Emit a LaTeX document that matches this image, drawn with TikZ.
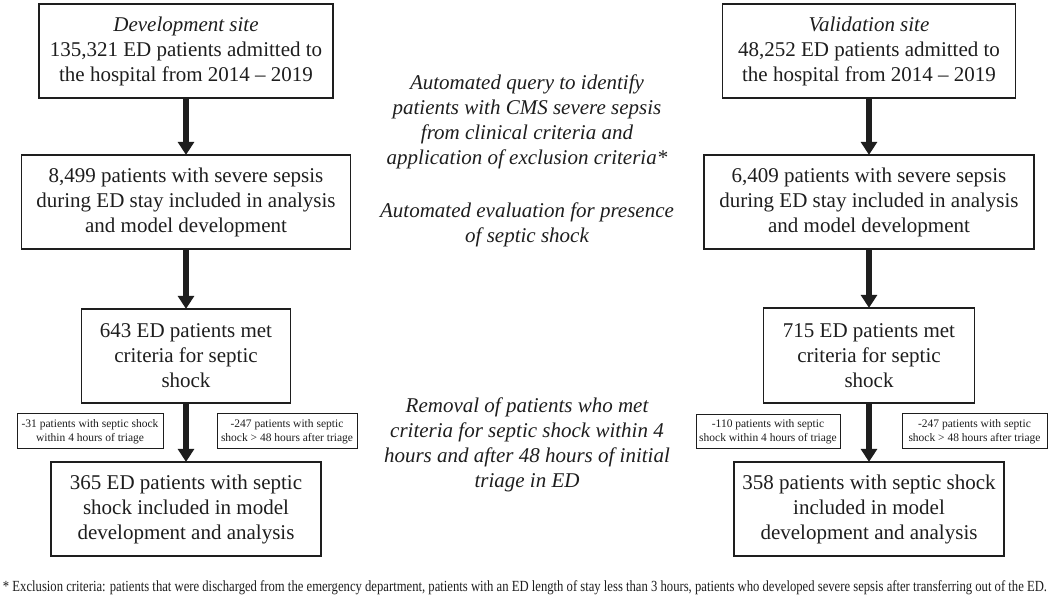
\documentclass[tikz,border=0pt]{standalone}
\usepackage{fontspec}
\setmainfont{Liberation Serif}
\usetikzlibrary{arrows.meta}
\definecolor{ink}{HTML}{1E1E1E}
\tikzset{
  box/.style={draw=ink, line width=1.3pt, inner sep=0pt, align=center, text=ink,
    font=\fontsize{21}{25}\selectfont},
  smallbox/.style={draw=ink, line width=1pt, inner sep=0pt, align=center, text=ink,
    font=\fontsize{11.5}{14}\selectfont},
  note/.style={inner sep=0pt, align=center, text=ink, font=\fontsize{21}{25}\selectfont\itshape},
  bigarrow/.style={draw=ink, line width=5.5pt, -{Triangle[width=16pt,length=13pt]}, shorten >=-0.5pt}
}
\begin{document}
\begin{tikzpicture}[x=1pt,y=-1pt]
\useasboundingbox[fill=white] (0,0) rectangle (1050,601);
% left column
\node[box, minimum width=294pt, minimum height=94pt] (l1) at (186,51)
  {\textit{Development site}\\135,321 ED patients admitted to\\the hospital from 2014 – 2019};
\node[box, minimum width=329pt, minimum height=94pt] (l2) at (186,202)
  {8,499 patients with severe sepsis\\during ED stay included in analysis\\and model development};
\node[box, minimum width=209pt, minimum height=94pt] (l3) at (186,356)
  {643 ED patients met\\criteria for septic\\shock};
\node[box, minimum width=270pt, minimum height=94pt] (l4) at (186,509)
  {365 ED patients with septic\\shock included in model\\development and analysis};
\node[smallbox, minimum width=146pt, minimum height=35pt] (ls1) at (90,431.5)
  {-31 patients with septic shock\\within 4 hours of triage};
\node[smallbox, minimum width=140pt, minimum height=35pt] (ls2) at (287,431.5)
  {-247 patients with septic\\shock > 48 hours after triage};
% right column
\node[box, minimum width=293pt, minimum height=94pt] (r1) at (869,51)
  {\textit{Validation site}\\48,252 ED patients admitted to\\the hospital from 2014 – 2019};
\node[box, minimum width=330pt, minimum height=94pt] (r2) at (869,202)
  {6,409 patients with severe sepsis\\during ED stay included in analysis\\and model development};
\node[box, minimum width=211pt, minimum height=95pt] (r3) at (869,355.5)
  {715 ED patients met\\criteria for septic\\shock};
\node[box, minimum width=270pt, minimum height=94pt] (r4) at (869,509)
  {358 patients with septic shock\\included in model\\development and analysis};
\node[smallbox, minimum width=144pt, minimum height=34pt] (rs1) at (768,432)
  {-110 patients with septic\\shock within 4 hours of triage};
\node[smallbox, minimum width=145pt, minimum height=35pt] (rs2) at (974.5,431.5)
  {-247 patients with septic\\shock > 48 hours after triage};
% middle notes
\node[note] (n1) at (527,122)
  {Automated query to identify\\patients with CMS severe sepsis\\from clinical criteria and\\application of exclusion criteria*};
\node[note] (n2) at (527,225)
  {Automated evaluation for presence\\of septic shock};
\node[note] (n3) at (527,445)
  {Removal of patients who met\\criteria for septic shock within 4\\hours and after 48 hours of initial\\triage in ED};
% arrows
\draw[bigarrow] (l1.south) -- (l2.north);
\draw[bigarrow] (l2.south) -- (l3.north);
\draw[bigarrow] (l3.south) -- (l4.north);
\draw[bigarrow] (r1.south) -- (r2.north);
\draw[bigarrow] (r2.south) -- (r3.north);
\draw[bigarrow] (r3.south) -- (r4.north);
% footnote
\node[inner sep=0pt, text=ink] (fn) at (525,588)
  {\scalebox{1}[1.22]{\resizebox{1044pt}{!}{\fontsize{12}{14}\selectfont * Exclusion criteria: patients that were discharged from the emergency department, patients with an ED length of stay less than 3 hours, patients who developed severe sepsis after transferring out of the ED.}}};
\end{tikzpicture}
\end{document}
